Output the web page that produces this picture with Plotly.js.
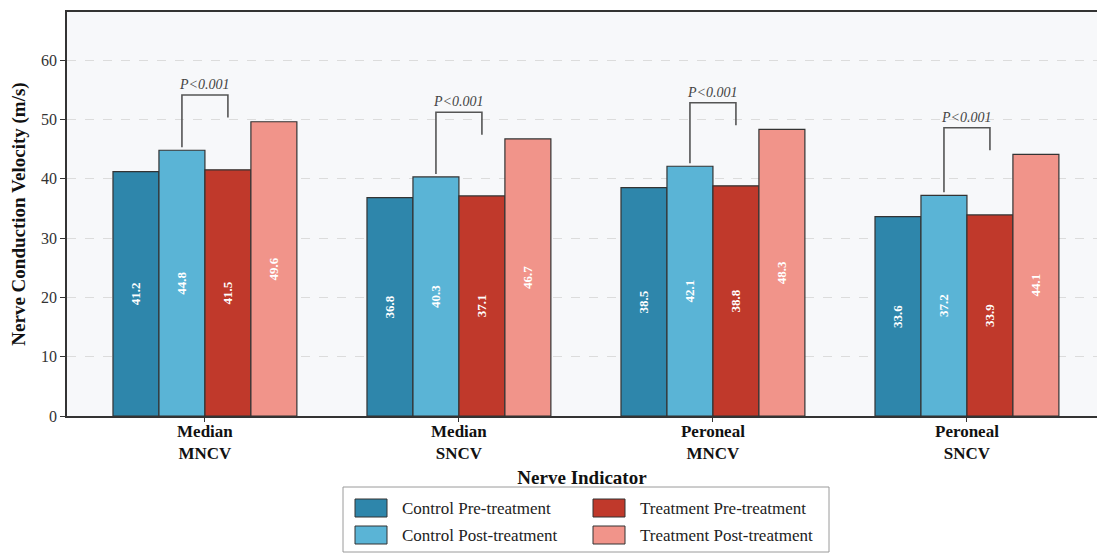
<!DOCTYPE html>
<html>
<head>
<meta charset="utf-8">
<script src="https://cdn.plot.ly/plotly-3.0.1.min.js"></script>
<style>
  html, body { margin: 0; padding: 0; background: #ffffff; }
  #chart { width: 1097px; height: 554px; }
</style>
</head>
<body>
<div id="chart"></div>
<script>
// Nerve indicators (x categories)
const categories = ["Median<br>MNCV", "Median<br>SNCV", "Peroneal<br>MNCV", "Peroneal<br>SNCV"];

// Conduction velocity (m/s) per group and time point
const controlPre    = [41.2, 36.8, 38.5, 33.6];
const controlPost   = [44.8, 40.3, 42.1, 37.2];
const treatmentPre  = [41.5, 37.1, 38.8, 33.9];
const treatmentPost = [49.6, 46.7, 48.3, 44.1];

const seriesNames  = ["Control Pre-treatment", "Control Post-treatment", "Treatment Pre-treatment", "Treatment Post-treatment"];
const seriesColors = ["#2e86ab", "#5ab4d6", "#c0392b", "#f1948a"];
const seriesValues = [controlPre, controlPost, treatmentPre, treatmentPost];

const pLabel = "P<0.001";

const SERIF = "Liberation Serif, Times New Roman, serif";

const traces = seriesValues.map((vals, i) => ({
  type: "bar",
  name: seriesNames[i],
  x: categories,
  y: vals,
  text: vals.map(v => v.toFixed(1)),
  texttemplate: "<b>%{text}</b>",
  textposition: "inside",
  insidetextanchor: "middle",
  textangle: -90,
  textfont: { family: SERIF, size: 13, color: "#ffffff" },
  marker: { color: seriesColors[i], line: { color: "#333333", width: 1.2 } },
  showlegend: false,
  hoverinfo: "x+y+name"
}));

// Layout geometry helpers (pixel -> paper fractions)
const W = 1097, H = 554;
const M = { l: 67, r: 0, t: 12, b: 138 };
const plotW = W - M.l - M.r, plotH = H - M.t - M.b;
const px = x => (x - M.l) / plotW;
const py = y => (H - M.b - y) / plotH;

const shapes = [];
const annotations = [];

// Significance brackets between control post and treatment pre bars
const nBars = 4, groupWidth = 0.724, barW = groupWidth / nBars;
const offset = k => -groupWidth / 2 + barW * (k + 0.5);
categories.forEach((c, i) => {
  const groupMax = Math.max(controlPre[i], controlPost[i], treatmentPre[i], treatmentPost[i]);
  const top = groupMax + 4.5;
  const xL = i + offset(1), xR = i + offset(2);
  shapes.push({
    type: "path", xref: "x", yref: "y",
    path: `M ${xL},${controlPost[i] + 0.5} L ${xL},${top} L ${xR},${top} L ${xR},${top - 3.8}`,
    line: { color: "#555555", width: 1.6 }
  });
  annotations.push({
    xref: "x", yref: "y", x: i, y: top, yanchor: "bottom", yshift: 1,
    text: "<i>" + pLabel.replace("<", "&lt;") + "</i>", showarrow: false,
    font: { family: SERIF, size: 14, color: "#444444" }
  });
});

// Legend box with two columns of swatches
shapes.push({
  type: "rect", xref: "paper", yref: "paper",
  x0: px(343), x1: px(829), y0: py(487), y1: py(552),
  line: { color: "#9a9a9a", width: 1 }, fillcolor: "#ffffff", layer: "above"
});
[0, 1, 2, 3].forEach(k => {
  const col = Math.floor(k / 2), row = k % 2;
  const sx = col === 0 ? 355 : 593;
  const sy = row === 0 ? 499 : 526;
  shapes.push({
    type: "rect", xref: "paper", yref: "paper",
    x0: px(sx), x1: px(sx + 32), y0: py(sy), y1: py(sy + 18),
    fillcolor: seriesColors[k], line: { color: "#333333", width: 1 }, layer: "above"
  });
  annotations.push({
    xref: "paper", yref: "paper", x: px(sx + 45), y: py(sy + 9),
    xanchor: "left", yanchor: "middle", showarrow: false,
    text: seriesNames[k], font: { family: SERIF, size: 17, color: "#222222" }
  });
});

const layout = {
  width: W, height: H,
  margin: M,
  paper_bgcolor: "#ffffff",
  plot_bgcolor: "#f7f8fa",
  barmode: "group",
  bargap: 1 - groupWidth,
  bargroupgap: 0,
  font: { family: SERIF, color: "#222222" },
  xaxis: {
    type: "category",
    range: [-0.543, 3.512],
    showgrid: false,
    showline: true, linecolor: "#333333", linewidth: 1.6,
    mirror: true,
    ticks: "outside", ticklen: 4, tickcolor: "#333333",
    ticklabelstandoff: -5,
    tickfont: { family: SERIF, size: 17, color: "#111111", weight: "bold" },
    title: { text: "<b>Nerve Indicator</b>", font: { family: SERIF, size: 19, color: "#111111" }, standoff: 8 },
    automargin: false
  },
  yaxis: {
    range: [0, 68.1],
    tickvals: [0, 10, 20, 30, 40, 50, 60],
    showgrid: true, gridcolor: "#dcdcdc", griddash: "dash", gridwidth: 1,
    zeroline: false,
    showline: true, linecolor: "#333333", linewidth: 1.6,
    ticks: "outside", ticklen: 5, tickcolor: "#333333",
    tickfont: { family: SERIF, size: 16, color: "#333333" },
    title: { text: "<b>Nerve Conduction Velocity (m/s)</b>", font: { family: SERIF, size: 19, color: "#111111" }, standoff: 10 },
    automargin: false
  },
  shapes: shapes,
  annotations: annotations,
  showlegend: false
};

Plotly.newPlot("chart", traces, layout, { displayModeBar: false, responsive: false });
</script>
</body>
</html>
